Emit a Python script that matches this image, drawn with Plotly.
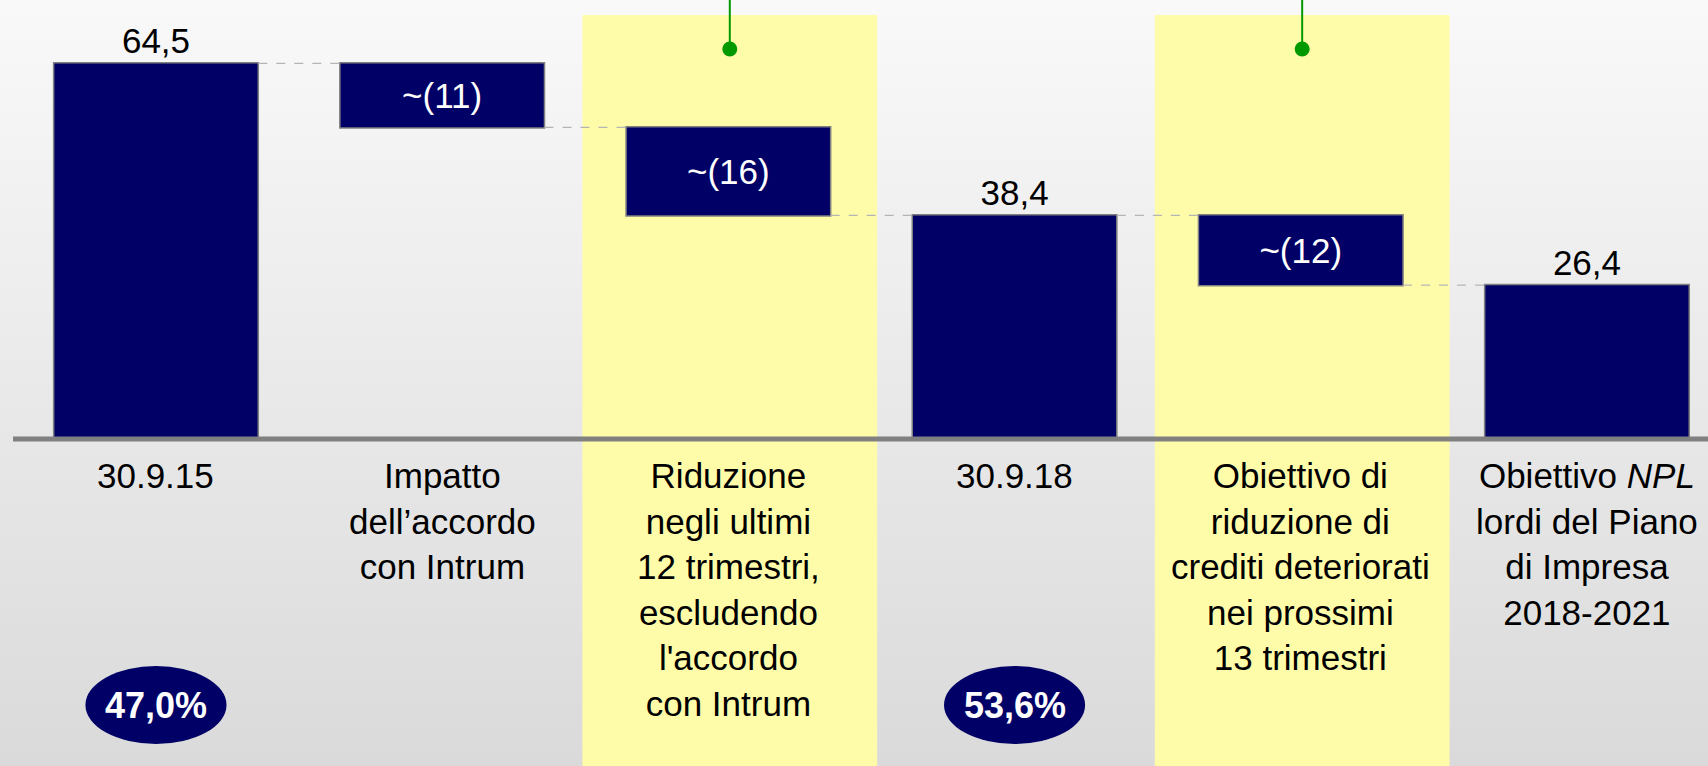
import plotly.graph_objects as go

# ---------------- data ----------------
categories = [
    "30.9.15",
    "Impatto<br>dell’accordo<br>con Intrum",
    "Riduzione<br>negli ultimi<br>12 trimestri,<br>escludendo<br>l'accordo<br>con Intrum",
    "30.9.18",
    "Obiettivo di<br>riduzione di<br>crediti deteriorati<br>nei prossimi<br>13 trimestri",
    "Obiettivo <i>NPL</i><br>lordi del Piano<br>di Impresa<br>2018-2021",
]
measures = ["absolute", "relative", "relative", "total", "relative", "total"]
values = [64.5, -11.0, -15.1, 0, -12.0, 0]
bar_labels = ["64,5", "~(11)", "~(16)", "38,4", "~(12)", "26,4"]
label_positions = ["outside", "inside", "inside", "outside", "inside", "outside"]
highlighted = [2, 4]                      # categories with yellow band + green pin
ratio_labels = {0: "47,0%", 3: "53,6%"}   # ellipse badges

# ---------------- style / layout constants ----------------
W, H = 1708, 766
FONT = "Arial, 'Liberation Sans', sans-serif"
NAVY = "#000066"
BASE_PX = 439.0          # pixel row of value 0
PX_PER_UNIT = 5.825
X_RANGE = [-0.545, 5.423]
Y_RANGE = [-(H - BASE_PX) / PX_PER_UNIT, BASE_PX / PX_PER_UNIT]
BAND_SHIFT = 0.005


def py(p):
    """pixel row -> paper y"""
    return 1 - p / H


x_idx = list(range(len(categories)))

fig = go.Figure()

fig.add_trace(go.Waterfall(
    x=x_idx, y=values, measure=measures,
    text=bar_labels, textposition=label_positions,
    insidetextanchor="middle", width=0.715,
    textfont=dict(family=FONT, size=35),
    insidetextfont=dict(family=FONT, size=35, color="white"),
    outsidetextfont=dict(family=FONT, size=35, color="black"),
    decreasing=dict(marker=dict(color=NAVY, line=dict(color="#808080", width=1.5))),
    increasing=dict(marker=dict(color=NAVY, line=dict(color="#808080", width=1.5))),
    totals=dict(marker=dict(color=NAVY, line=dict(color="#808080", width=1.5))),
    connector=dict(mode="between", line=dict(color="#b5b5b5", width=1.2, dash="dash")),
    cliponaxis=False, constraintext="none", hoverinfo="skip", showlegend=False,
))

shapes = []
# background gradient
N = 96
top_c, bot_c = 249, 218
for i in range(N):
    c = round(top_c + (bot_c - top_c) * (i + 0.5) / N)
    shapes.append(dict(type="rect", xref="paper", yref="paper",
                       x0=0, x1=1, y0=1 - (i + 1) / N - 0.002, y1=1 - i / N,
                       fillcolor=f"rgb({c},{c},{c})", line=dict(width=0), layer="below"))
# yellow bands
for c in highlighted:
    shapes.append(dict(type="rect", xref="x", yref="paper",
                       x0=c + BAND_SHIFT - 0.515, x1=c + BAND_SHIFT + 0.515, y0=0, y1=py(15),
                       fillcolor="#fffca9", line=dict(width=0), layer="below"))
# baseline
shapes.append(dict(type="line", xref="paper", yref="y", x0=13 / W, x1=1, y0=0, y1=0,
                   line=dict(color="#808080", width=5), layer="above"))
# green pins
for c in highlighted:
    shapes.append(dict(type="line", xref="x", yref="paper",
                       x0=c + BAND_SHIFT, x1=c + BAND_SHIFT, y0=py(49), y1=1,
                       line=dict(color="#009900", width=2), layer="above"))
# ellipse badges
for c in ratio_labels:
    shapes.append(dict(type="circle", xref="x", yref="paper",
                       x0=c - 0.2465, x1=c + 0.2465, y0=py(744), y1=py(666),
                       fillcolor=NAVY, line=dict(width=0), layer="above"))

fig.add_trace(go.Scatter(
    x=[c + BAND_SHIFT for c in highlighted],
    y=[(BASE_PX - 49) / PX_PER_UNIT] * len(highlighted),
    mode="markers", marker=dict(color="#009900", size=15),
    hoverinfo="skip", showlegend=False, cliponaxis=False,
))

annotations = []
for i, cat in enumerate(categories):
    annotations.append(dict(x=i, xref="x", y=py(454), yref="paper", yanchor="top",
                            text=cat, showarrow=False, align="center",
                            font=dict(family=FONT, size=35, color="black")))
for c, t in ratio_labels.items():
    annotations.append(dict(x=c, xref="x", y=py(705), yref="paper", yanchor="middle",
                            text=f"<b>{t}</b>", showarrow=False,
                            font=dict(family=FONT, size=36, color="white")))

fig.update_layout(
    width=W, height=H, margin=dict(l=0, r=0, t=0, b=0),
    paper_bgcolor="rgba(0,0,0,0)", plot_bgcolor="rgba(0,0,0,0)",
    xaxis=dict(range=X_RANGE, visible=False, fixedrange=True),
    yaxis=dict(range=Y_RANGE, visible=False, fixedrange=True),
    shapes=shapes, annotations=annotations, showlegend=False,
)

fig.write_html("out.html", config={"displayModeBar": False},
               post_script="document.body.style.margin='0';")
